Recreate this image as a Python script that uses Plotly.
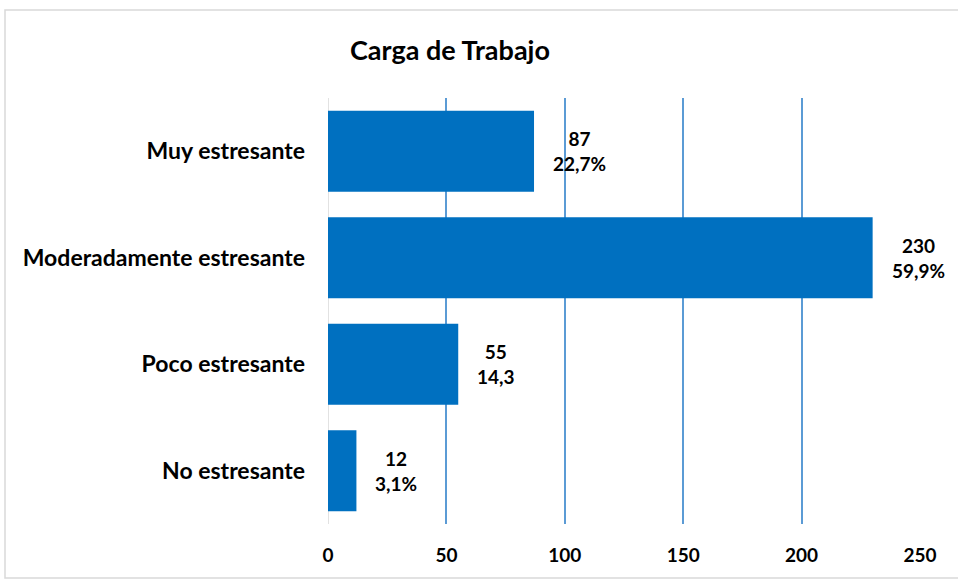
import plotly.graph_objects as go

categories = ["Muy estresante", "Moderadamente estresante", "Poco estresante", "No estresante"]
counts = [87, 230, 55, 12]
pct_labels = ["22,7%", "59,9%", "14,3", "3,1%"]
x_ticks = [0, 50, 100, 150, 200, 250]
title_text = "Carga de Trabajo"

FONT = "Lato"
BAR = "#0070C0"
GRID = "#5B9BD5"

W, H = 958, 580
ML, MR, MT, MB = 328, 38, 98, 56
pw = W - ML - MR
ph = H - MT - MB

fig = go.Figure()
fig.add_trace(go.Bar(
    y=categories, x=counts, orientation="h",
    marker=dict(color=BAR, line=dict(width=0)),
    hoverinfo="x+y",
))

annotations = []
for c, n, p in zip(categories, counts, pct_labels):
    annotations.append(dict(
        x=n, y=c, xref="x", yref="y",
        text=f"<b>{n}</b><br><b>{p}</b>",
        showarrow=False, xanchor="left", yanchor="middle", align="center",
        xshift=17, font=dict(family=FONT, size=19, color="#000000"),
    ))

annotations.append(dict(
    x=(450 - ML) / pw, y=(H - MB - 50) / ph, xref="paper", yref="paper",
    text=f"<b>{title_text}</b>", showarrow=False,
    xanchor="center", yanchor="middle",
    font=dict(family=FONT, size=27, color="#000000"),
))

fig.update_layout(
    width=W, height=H,
    margin=dict(l=ML, r=MR, t=MT, b=MB, autoexpand=False),
    paper_bgcolor="white", plot_bgcolor="white",
    bargap=0.24,
    showlegend=False,
    annotations=annotations,
    xaxis=dict(
        range=[0, 250], tickvals=x_ticks, ticktext=[f"<b>{t}</b>" for t in x_ticks],
        showgrid=True, gridcolor=GRID, gridwidth=1.5,
        zeroline=False, showline=False, ticks="",
        ticklabelstandoff=18,
        tickfont=dict(family=FONT, size=19, color="#000000"),
        fixedrange=True,
    ),
    yaxis=dict(
        categoryorder="array", categoryarray=categories, autorange="reversed",
        tickvals=categories, ticktext=[f"<b>{c}</b>" for c in categories],
        showgrid=False, zeroline=False, showline=False, ticks="",
        ticklabelstandoff=22,
        tickfont=dict(family=FONT, size=23, color="#000000"),
        fixedrange=True,
    ),
    shapes=[
        dict(type="line", xref="x", yref="paper", x0=0, x1=0, y0=0, y1=1,
             line=dict(color="#D9D9D9", width=1.5), layer="below"),
        dict(type="rect", xref="paper", yref="paper",
             x0=(5 - ML) / pw, x1=(970 - ML) / pw,
             y0=(H - MB - 578) / ph, y1=(H - MB - 10) / ph,
             line=dict(color="#D9D9D9", width=1.5), fillcolor="rgba(0,0,0,0)"),
    ],
)

fig.write_html(
    "out.html",
    config={"displayModeBar": False},
    post_script="document.body.style.margin='0';document.body.style.overflow='hidden';",
)
